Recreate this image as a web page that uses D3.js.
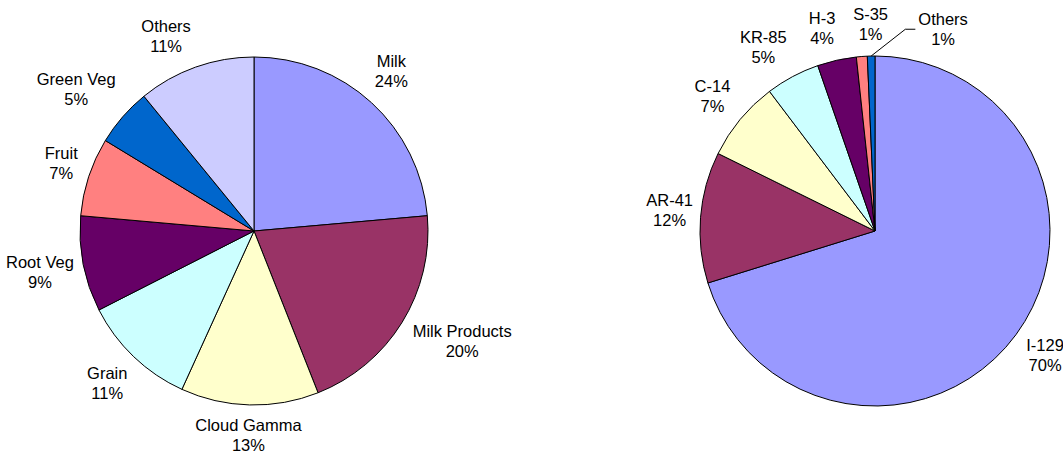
<!DOCTYPE html>
<html>
<head>
<meta charset="utf-8">
<script src="https://cdn.jsdelivr.net/npm/d3@7"></script>
<style>
  body { margin: 0; background: #fff; }
  svg { display: block; }
  text { font-family: "Liberation Sans", Arial, sans-serif; font-size: 16.5px; fill: #000; }
</style>
</head>
<body>
<svg id="chart" width="1063" height="454"></svg>
<script>
// Dose contribution by food pathway (percent)
const foodCategories = ["Milk", "Milk Products", "Cloud Gamma", "Grain", "Root Veg", "Fruit", "Green Veg", "Others"];
const foodShares = [23.6, 20.4, 12.8, 10.7, 8.9, 7.3, 5.4, 10.9];
const foodColors = ["#9999FF", "#993366", "#FFFFCC", "#CCFFFF", "#660066", "#FF8080", "#0066CC", "#CCCCFF"];

// Dose contribution by nuclide (percent)
const nuclideCategories = ["I-129", "AR-41", "C-14", "KR-85", "H-3", "S-35", "Others"];
const nuclideShares = [70.2, 12.1, 7.4, 5.0, 3.6, 1.0, 0.7];
const nuclideColors = ["#9999FF", "#993366", "#FFFFCC", "#CCFFFF", "#660066", "#FF8080", "#0066CC"];

// Hand-adjusted label rotations (degrees, clockwise) for crowded labels
const foodLabelTurn = { "Milk": -1.6, "Milk Products": -3.6, "Green Veg": -2.7, "Others": -4.8, "Fruit": 1 };
const nuclideLabelTurn = { "AR-41": 1, "KR-85": -3.3, "H-3": -2.1, "S-35": 3.1, "Others": 20 };

const svg = d3.select("#chart");
const lineHeight = 20;
const labelGap = 7;
const labelPadY = 5;
const labelLift = 1;

function drawPie(cx, cy, radius, categories, shares, colors, turns) {
  const data = categories.map((c, i) => ({ name: c, value: shares[i], color: colors[i] }));
  const total = d3.sum(shares);
  const pie = d3.pie().sort(null).value(d => d.value).startAngle(0).endAngle(2 * Math.PI);
  const arc = d3.arc().innerRadius(0).outerRadius(radius);
  const arcs = pie(data);

  const g = svg.append("g").attr("transform", `translate(${cx},${cy})`);

  g.selectAll("path.slice")
    .data(arcs)
    .join("path")
    .attr("class", "slice")
    .attr("d", arc)
    .attr("fill", d => d.data.color)
    .attr("stroke", "#000")
    .attr("stroke-width", 1)
    .attr("stroke-linejoin", "round");

  // Distance from pie centre to the nearest point of a box
  const boxDist = (x, y, w, h) => Math.hypot(Math.max(Math.abs(x) - w / 2, 0), Math.max(Math.abs(y) - h / 2, 0));

  // Slide a label box out along angle a until its nearest edge clears the pie
  function placeAt(a, w, h) {
    const R = radius + labelGap;
    let lo = 0, hi = radius * 3;
    for (let k = 0; k < 50; k++) {
      const t = (lo + hi) / 2;
      if (boxDist(t * Math.sin(a), -t * Math.cos(a), w, h) < R) lo = t; else hi = t;
    }
    return { x: lo * Math.sin(a), y: -lo * Math.cos(a) - labelLift };
  }

  arcs.forEach(d => {
    const lg = g.append("g");
    const t = lg.append("text").attr("text-anchor", "middle");
    t.append("tspan").attr("x", 0).attr("y", 0).text(d.data.name);
    t.append("tspan").attr("x", 0).attr("y", lineHeight).text(Math.round(d.data.value / total * 100) + "%");
    const bb = lg.node().getBBox();
    const w = bb.width, h = bb.height;
    const mid = (d.startAngle + d.endAngle) / 2;
    const turn = (turns[d.data.name] || 0) * Math.PI / 180;

    const p = placeAt(mid + turn, w, h + 2 * labelPadY);
    lg.attr("transform", `translate(${p.x - (bb.x + w / 2)},${p.y - (bb.y + h / 2)})`);

    // Labels moved well away from their slice get a leader line
    if (Math.abs(turn) > Math.PI / 18) {
      const left = p.x - w / 2;
      const ly = p.y;
      const ax = radius * Math.sin(mid), ay = -radius * Math.cos(mid);
      g.append("path")
        .attr("d", d3.line()([[ax, ay], [left - 13, ly], [left - 3, ly]]))
        .attr("fill", "none")
        .attr("stroke", "#000")
        .attr("stroke-width", 1);
    }
  });
}

drawPie(254, 231, 174, foodCategories, foodShares, foodColors, foodLabelTurn);
drawPie(875, 231, 175, nuclideCategories, nuclideShares, nuclideColors, nuclideLabelTurn);
</script>
</body>
</html>
